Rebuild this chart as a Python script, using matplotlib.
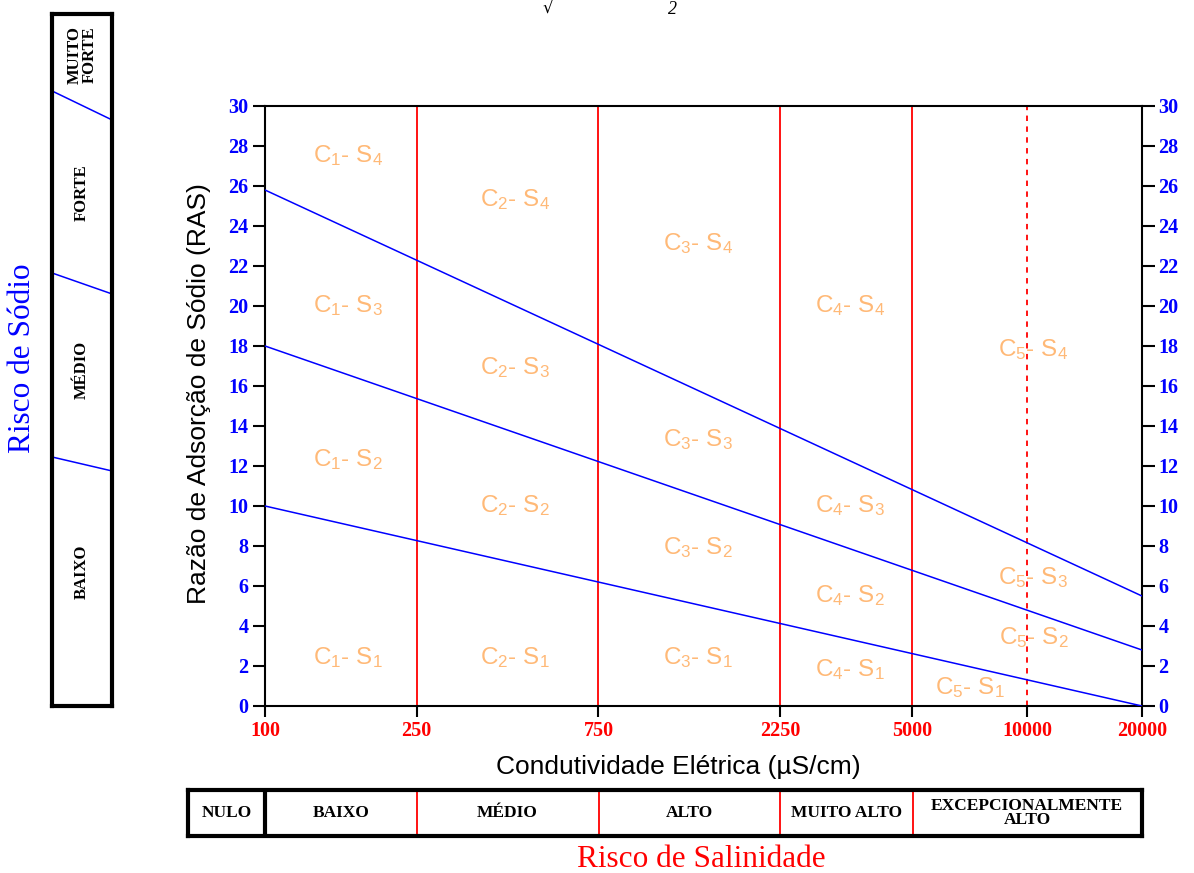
import matplotlib
matplotlib.use("Agg")
import matplotlib.pyplot as plt
import numpy as np

plt.rcParams["font.family"] = ["Liberation Sans", "DejaVu Sans"]
plt.rcParams["mathtext.default"] = "regular"

# --- data -------------------------------------------------------------------
ce_ticks = [100, 250, 750, 2250, 5000, 10000, 20000]
ce_limits = [100, 20000]
ras_ticks = list(range(0, 31, 2))

# salinity class boundaries (µS/cm)
sal_bounds = [250, 750, 2250, 5000]
sal_extra = 10000

# sodium hazard boundaries: RAS at CE = 100 and CE = 20000
s_line_left = [10.0, 18.0, 25.8]
s_line_right = [0.0, 2.8, 5.5]

# class labels and where they sit (CE, RAS)
class_labels = [
    "C$_1$- S$_4$", "C$_2$- S$_4$", "C$_3$- S$_4$", "C$_4$- S$_4$", "C$_5$- S$_4$",
    "C$_1$- S$_3$", "C$_2$- S$_3$", "C$_3$- S$_3$", "C$_4$- S$_3$", "C$_5$- S$_3$",
    "C$_1$- S$_2$", "C$_2$- S$_2$", "C$_3$- S$_2$", "C$_4$- S$_2$", "C$_5$- S$_2$",
    "C$_1$- S$_1$", "C$_2$- S$_1$", "C$_3$- S$_1$", "C$_4$- S$_1$", "C$_5$- S$_1$",
]
label_ce = [165, 453, 1368, 3428, 10380,
            165, 453, 1368, 3428, 10380,
            165, 453, 1368, 3428, 10380,
            165, 453, 1368, 3428, 7080]
label_ras = [27.5, 25.3, 23.1, 20.0, 17.8,
             20.0, 16.9, 13.3, 10.0, 6.4,
             12.3, 10.0, 7.9, 5.5, 3.4,
             2.4, 2.4, 2.4, 1.8, 0.9]

# sodium-risk side box (RAS units)
sod_names = ["BAIXO", "MÉDIO", "FORTE", "MUITO\nFORTE"]
sod_name_ras = [6.7, 16.8, 25.65, 32.55]
sod_box_left = [12.45, 21.65, 30.75]
sod_box_right = [11.75, 20.6, 29.3]
sod_box_top = 34.6

# salinity-risk box
sal_names = ["NULO", "BAIXO", "MÉDIO", "ALTO", "MUITO ALTO", "EXCEPCIONALMENTE\nALTO"]
sal_edges = [62.8, 100, 250, 750, 2250, 5000, 20000]

ORANGE = "#FFB977"
serif_b = dict(family="Liberation Serif", fontweight="bold")

fig = plt.figure(figsize=(11.94, 8.73), dpi=100)

# --- main diagram -----------------------------------------------------------
ax = fig.add_axes([0.2219, 0.1913, 0.7345, 0.6873])
ax.set_xscale("log")
ax.set_xlim(*ce_limits)
ax.set_ylim(0, 30)

for xb in sal_bounds:
    ax.plot([xb, xb], [0, 30], color="red", lw=1.3, zorder=2)
ax.plot([sal_extra, sal_extra], [0, 30], color="red", lw=1.3, ls=(0, (3, 3)), zorder=2)

for yl, yr in zip(s_line_left, s_line_right):
    ax.plot(ce_limits, [yl, yr], color="blue", lw=1.1, zorder=3)

for txt, xc, yc in zip(class_labels, label_ce, label_ras):
    ax.text(xc, yc, txt, color=ORANGE, fontsize=17.5, ha="center", va="center")

ax.set_xticks(ce_ticks)
ax.set_xticklabels([str(t) for t in ce_ticks])
ax.xaxis.set_minor_locator(matplotlib.ticker.NullLocator())
ax.set_yticks(ras_ticks)
ax.tick_params(axis="x", direction="out", length=8, width=1.5, colors="black",
               labelcolor="red", labelsize=14.5, pad=3)
ax.tick_params(axis="y", direction="out", length=9, width=1.5, colors="black",
               labelcolor="blue", labelsize=14.5, right=True, labelright=True, pad=3)
for lab in ax.get_xticklabels() + ax.get_yticklabels():
    lab.set_fontfamily("Liberation Serif")
    lab.set_fontweight("bold")
for sp in ax.spines.values():
    sp.set_linewidth(1.5)

ax.set_ylabel("Razão de Adsorção de Sódio (RAS)", fontsize=19, y=0.52, labelpad=12)
ax.set_xlabel("Condutividade Elétrica (µS/cm)", fontsize=19, x=0.471, labelpad=10)

# --- sodium-risk box --------------------------------------------------------
axs = fig.add_axes([0.0436, 0.1913, 0.0503, 0.7927])
axs.set_xlim(0, 1)
axs.set_ylim(0, sod_box_top)
axs.set_xticks([])
axs.set_yticks([])
for sp in axs.spines.values():
    sp.set_linewidth(3)
for yl, yr in zip(sod_box_left, sod_box_right):
    axs.plot([0, 1], [yl, yr], color="blue", lw=1.1)
for name, yc in zip(sod_names, sod_name_ras):
    axs.text(0.5, yc, name, rotation=90, ha="center", va="center",
             fontsize=12, linespacing=0.95, **serif_b)
fig.text(0.019, 0.59, "Risco de Sódio", rotation=90, color="blue",
         family="Liberation Serif", fontsize=22.5, ha="center", va="center")

# --- salinity-risk box ------------------------------------------------------
axb = fig.add_axes([0.1575, 0.0424, 0.7989, 0.0527])
axb.set_xscale("log")
axb.set_xlim(sal_edges[0], sal_edges[-1])
axb.set_ylim(0, 1)
axb.set_xticks([])
axb.set_yticks([])
axb.xaxis.set_minor_locator(matplotlib.ticker.NullLocator())
for sp in axb.spines.values():
    sp.set_linewidth(3)
axb.plot([sal_edges[1]] * 2, [0, 1], color="black", lw=3)
for xb in sal_edges[2:-1]:
    axb.plot([xb, xb], [0, 1], color="red", lw=1.3)
for name, x0, x1 in zip(sal_names, sal_edges[:-1], sal_edges[1:]):
    axb.text(np.sqrt(x0 * x1), 0.5, name, ha="center", va="center",
             fontsize=12.5, linespacing=0.85, **serif_b)
fig.text(0.587, 0.015, "Risco de Salinidade", color="red",
         family="Liberation Serif", fontsize=22.5, ha="center", va="center")

# fragment of the RAS formula above the diagram
fig.text(0.459, 0.999, "√", family="DejaVu Serif", fontsize=12, ha="center", va="top")
fig.text(0.563, 0.999, "2", family="Liberation Serif", fontsize=13, style="italic",
         ha="center", va="top")

fig.savefig("out.png", dpi=100)
